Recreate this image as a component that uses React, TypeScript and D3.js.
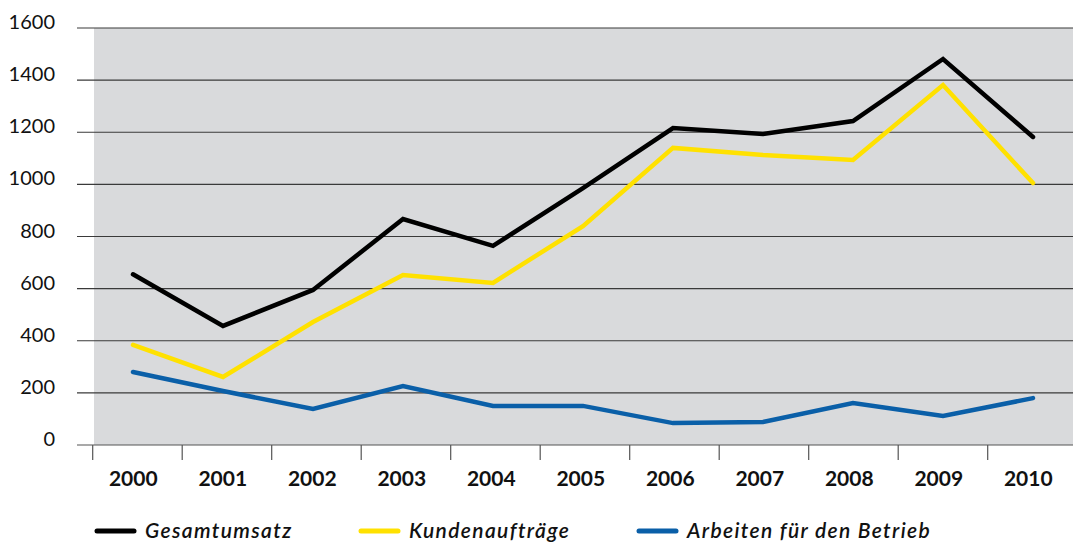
import React from "react";
import * as d3 from "d3";

const years = ["2000","2001","2002","2003","2004","2005","2006","2007","2008","2009","2010"];
const gesamtumsatz = [655, 457, 595, 867, 764, 986, 1216, 1193, 1243, 1481, 1182];
const kundenauftraege = [384, 261, 472, 652, 622, 840, 1140, 1113, 1094, 1381, 1005];
const arbeiten = [280, 207, 138, 226, 150, 150, 84, 88, 161, 111, 180];
const yTicks = [0, 200, 400, 600, 800, 1000, 1200, 1400, 1600];

const seriesList = [
  { name: "Gesamtumsatz", values: gesamtumsatz, color: "#000000" },
  { name: "Kundenaufträge", values: kundenauftraege, color: "#ffe100" },
  { name: "Arbeiten für den Betrieb", values: arbeiten, color: "#0a5fa8" },
];

const W = 1073, H = 543;
const left = 94, right = 1073, top = 28, bottom = 445;
const font = "Lato, 'Open Sans', sans-serif";

export default function App() {
  const xPts = d3.scalePoint<string>().domain(years).range([133, 1033]);
  const xLbl = d3.scalePoint<string>().domain(years).range([133.3, 1028.3]);
  const xTick = d3.scaleBand<string>().domain(years).range([92.7, 92.7 + 89.5 * 11]);
  const y = d3.scaleLinear().domain([0, 1600]).range([bottom, top]);
  const line = d3.line<number>()
    .x((_, i) => xPts(years[i]) as number)
    .y((d) => y(d));
  const legendX = [95, 359, 637];
  return (
    <svg width={W} height={H} style={{ position: "absolute", left: 0, top: 0, background: "#fff" }}>
      <rect x={left} y={top} width={right - left} height={bottom - top} fill="#d9dadc" />
      {yTicks.map((t) => (
        <g key={t}>
          <line x1={77} x2={right} y1={y(t)} y2={y(t)} stroke={t === 0 ? "#555" : "#3a3a3a"} strokeWidth={1.2} />
          <text x={55} y={y(t) + 1} textAnchor="end" fontFamily={font} fontSize={20} fill="#111">{t}</text>
        </g>
      ))}
      {years.map((yr) => (
        <g key={yr}>
          <line x1={xTick(yr) as number} x2={xTick(yr) as number} y1={bottom} y2={460} stroke="#555" strokeWidth={1.2} />
          <text x={xLbl(yr) as number} y={486} textAnchor="middle" fontFamily={font} fontWeight={700} fontSize={21} fill="#111">{yr}</text>
        </g>
      ))}
      {seriesList.map((s) => (
        <path key={s.name} d={line(s.values) || ""} fill="none" stroke={s.color} strokeWidth={4.5} strokeLinejoin="miter" strokeLinecap="round" />
      ))}
      {seriesList.map((s, i) => (
        <g key={s.name}>
          <line x1={legendX[i] + 2} x2={legendX[i] + 39} y1={531} y2={531} stroke={s.color} strokeWidth={5} strokeLinecap="round" />
          <text x={legendX[i] + 50} y={537.5} fontFamily={font} fontStyle="italic" fontWeight={600} fontSize={21} letterSpacing={1.35} fill="#111">{s.name}</text>
        </g>
      ))}
    </svg>
  );
}
